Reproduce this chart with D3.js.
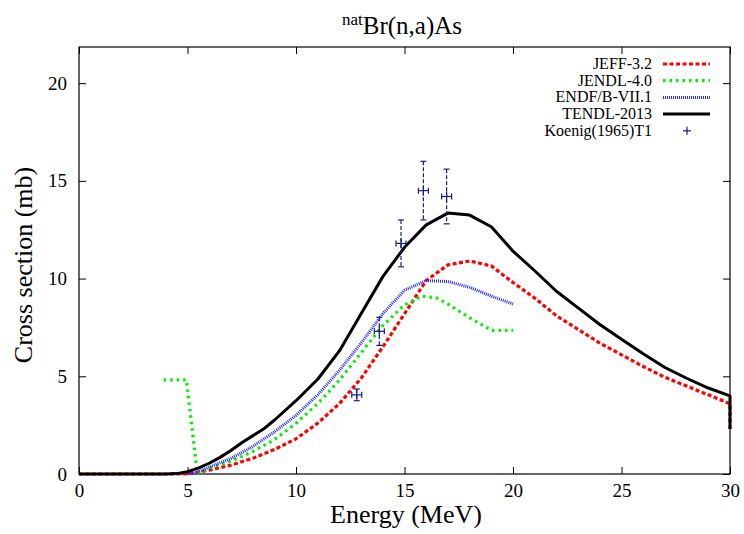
<!DOCTYPE html>
<html>
<head>
<meta charset="utf-8">
<script src="https://cdn.jsdelivr.net/npm/d3@7"></script>
<style>
  body { margin: 0; background: #fff; }
</style>
</head>
<body>
<div id="app"></div>
<script>
// energies (MeV) and cross sections (mb)
const tendlE = [0, 1, 2, 3, 4, 4.5, 5, 5.5, 6, 6.5, 7, 7.5, 8, 8.5, 9, 10, 11, 12, 13, 14, 15, 16, 17, 18, 19, 20, 21, 22, 23, 24, 25, 26, 27, 28, 29, 30, 30];
const tendlV = [0, 0, 0, 0, 0, 0.02, 0.12, 0.3, 0.55, 0.85, 1.2, 1.6, 1.95, 2.3, 2.75, 3.75, 4.85, 6.3, 8.2, 10.1, 11.6, 12.75, 13.35, 13.25, 12.65, 11.4, 10.4, 9.35, 8.5, 7.65, 6.9, 6.15, 5.45, 4.9, 4.4, 4.0, 2.3];

const jeffE = [0, 1, 2, 3, 4, 5, 5.5, 6, 7, 8, 9, 10, 11, 12, 13, 14, 15, 16, 17, 18, 19, 20, 21, 22, 23, 24, 25, 26, 27, 28, 29, 30, 30];
const jeffV = [0, 0, 0, 0, 0, 0, 0.1, 0.2, 0.45, 0.8, 1.25, 1.8, 2.6, 3.6, 4.9, 6.5, 8.2, 9.9, 10.7, 10.9, 10.65, 9.8, 9.0, 8.1, 7.4, 6.7, 6.1, 5.5, 4.95, 4.5, 4.05, 3.6, 2.3];

const jendlE = [3.9, 4.95, 5.45, 6, 7, 8, 9, 10, 11, 12, 13, 14, 15, 15.8, 16.5, 17, 18, 19, 20];
const jendlV = [4.82, 4.82, 0.05, 0.3, 0.65, 1.15, 1.75, 2.6, 3.6, 4.8, 6.2, 7.6, 8.65, 9.1, 9.0, 8.7, 8.0, 7.35, 7.35];

const endfE = [5, 5.5, 6, 7, 8, 9, 10, 11, 12, 13, 14, 15, 16, 17, 18, 19, 20];
const endfV = [0, 0.1, 0.35, 0.8, 1.4, 2.15, 3.0, 4.05, 5.3, 6.7, 8.2, 9.4, 9.9, 9.85, 9.55, 9.1, 8.7];

const expE = [12.8, 13.84, 14.84, 15.87, 16.94];
const expV = [4.05, 7.3, 11.8, 14.5, 14.2];
const expErr = [0.3, 0.72, 1.2, 1.5, 1.4];
const expEErr = [0.23, 0.23, 0.23, 0.23, 0.23];

const xTicks = [0, 5, 10, 15, 20, 25, 30];
const yTicks = [0, 5, 10, 15, 20];

const W = 744, H = 534;
const m = { left: 79, right: 14, top: 47, bottom: 60 };
const serif = "Liberation Serif";

const svg = d3.select("#app").append("svg")
    .attr("width", W)
    .attr("height", H)
    .style("font-family", serif);

const x = d3.scaleLinear().domain([0, 30]).range([m.left, W - m.right]);
const y = d3.scaleLinear().domain([0, 21.85]).range([H - m.bottom, m.top]);

// frame
svg.append("rect")
    .attr("x", x(0)).attr("y", y(21.85))
    .attr("width", x(30) - x(0)).attr("height", y(0) - y(21.85))
    .attr("fill", "none").attr("stroke", "#000").attr("stroke-width", 1.2);

// axes with mirrored ticks
const tk = 7;
svg.append("g").attr("transform", `translate(0,${y(0)})`)
    .call(d3.axisBottom(x).tickValues(xTicks).tickSize(-tk).tickPadding(10))
    .call(g => g.select(".domain").remove());
svg.append("g").attr("transform", `translate(0,${y(21.85)})`)
    .call(d3.axisTop(x).tickValues(xTicks).tickSize(-tk).tickFormat(""))
    .call(g => g.select(".domain").remove());
svg.append("g").attr("transform", `translate(${x(0)},0)`)
    .call(d3.axisLeft(y).tickValues(yTicks).tickSize(-tk).tickPadding(12))
    .call(g => g.select(".domain").remove());
svg.append("g").attr("transform", `translate(${x(30)},0)`)
    .call(d3.axisRight(y).tickValues(yTicks).tickSize(-tk).tickFormat(""))
    .call(g => g.select(".domain").remove());

svg.selectAll(".tick line").attr("stroke", "#000").attr("stroke-width", 1);
svg.selectAll(".tick text")
    .style("font-family", serif)
    .style("font-size", "19px")
    .attr("fill", "#000");

// curves
const line = d3.line().x(d => x(d[0])).y(d => y(d[1]));
const series = [
    { name: "JEFF-3.2", e: jeffE, v: jeffV, color: "#ff0000", width: 3.2, dash: "4,2.5" },
    { name: "JENDL-4.0", e: jendlE, v: jendlV, color: "#00ee00", width: 3.2, dash: "2.5,4" },
    { name: "ENDF/B-VII.1", e: endfE, v: endfV, color: "#2828ff", width: 3, dash: "1,1" },
    { name: "TENDL-2013", e: tendlE, v: tendlV, color: "#000000", width: 3, dash: null }
];

svg.append("g").selectAll("path")
    .data(series)
    .join("path")
    .attr("d", d => line(d.e.map((e, i) => [e, d.v[i]])))
    .attr("fill", "none")
    .attr("stroke", d => d.color)
    .attr("stroke-width", d => d.width)
    .attr("stroke-linejoin", "round")
    .attr("stroke-dasharray", d => d.dash);

// experimental points
const expColor = "#1a1a80";
const pts = expE.map((e, i) => ({ e: e, v: expV[i], dv: expErr[i], de: expEErr[i] }));
const gp = svg.append("g").attr("stroke", expColor).attr("stroke-width", 1.2);
gp.selectAll(".ebar").data(pts).join("line")
    .attr("x1", d => x(d.e)).attr("x2", d => x(d.e))
    .attr("y1", d => y(d.v + d.dv)).attr("y2", d => y(d.v - d.dv))
    .attr("stroke-dasharray", "4,2");
gp.selectAll(".ecap").data(pts.flatMap(d => [[d, d.v + d.dv], [d, d.v - d.dv]])).join("line")
    .attr("x1", d => x(d[0].e) - 3).attr("x2", d => x(d[0].e) + 3)
    .attr("y1", d => y(d[1])).attr("y2", d => y(d[1]));
gp.selectAll(".hbar").data(pts).join("line")
    .attr("x1", d => x(d.e - d.de)).attr("x2", d => x(d.e + d.de))
    .attr("y1", d => y(d.v)).attr("y2", d => y(d.v));
gp.selectAll(".hcap").data(pts.flatMap(d => [[d, d.e - d.de], [d, d.e + d.de]])).join("line")
    .attr("x1", d => x(d[1])).attr("x2", d => x(d[1]))
    .attr("y1", d => y(d[0].v) - 3).attr("y2", d => y(d[0].v) + 3);
gp.selectAll(".vmark").data(pts).join("line")
    .attr("x1", d => x(d.e)).attr("x2", d => x(d.e))
    .attr("y1", d => y(d.v) - 5).attr("y2", d => y(d.v) + 5);

// legend
const legend = svg.append("g");
const rowH = 16.7, ly0 = 64;
series.forEach((s, i) => {
    const ly = ly0 + i * rowH;
    legend.append("text").attr("x", 652).attr("y", ly + 5)
        .attr("text-anchor", "end")
        .style("font-family", serif).style("font-size", "16px").text(s.name);
    legend.append("line")
        .attr("x1", 663).attr("x2", 710).attr("y1", ly).attr("y2", ly)
        .attr("stroke", s.color).attr("stroke-width", s.width)
        .attr("stroke-dasharray", s.dash);
});
{
    const ly = ly0 + 4 * rowH;
    legend.append("text").attr("x", 652).attr("y", ly + 5)
        .attr("text-anchor", "end")
        .style("font-family", serif).style("font-size", "16px").text("Koenig(1965)T1");
    legend.append("line").attr("x1", 683).attr("x2", 691).attr("y1", ly).attr("y2", ly)
        .attr("stroke", expColor).attr("stroke-width", 1.2);
    legend.append("line").attr("x1", 687).attr("x2", 687).attr("y1", ly - 4).attr("y2", ly + 4)
        .attr("stroke", expColor).attr("stroke-width", 1.2);
}

// title and axis labels
const title = svg.append("text").attr("x", 402).attr("y", 34)
    .attr("text-anchor", "middle")
    .style("font-family", serif).style("font-size", "25px");
title.append("tspan").attr("dy", -9).style("font-size", "17px").text("nat");
title.append("tspan").attr("dy", 9).text("Br(n,a)As");

svg.append("text").attr("x", 406).attr("y", 523)
    .attr("text-anchor", "middle")
    .style("font-family", serif).style("font-size", "26px").text("Energy (MeV)");

svg.append("text")
    .attr("transform", `translate(32,265) rotate(-90)`)
    .attr("text-anchor", "middle")
    .style("font-family", serif).style("font-size", "26px").text("Cross section (mb)");
</script>
</body>
</html>
